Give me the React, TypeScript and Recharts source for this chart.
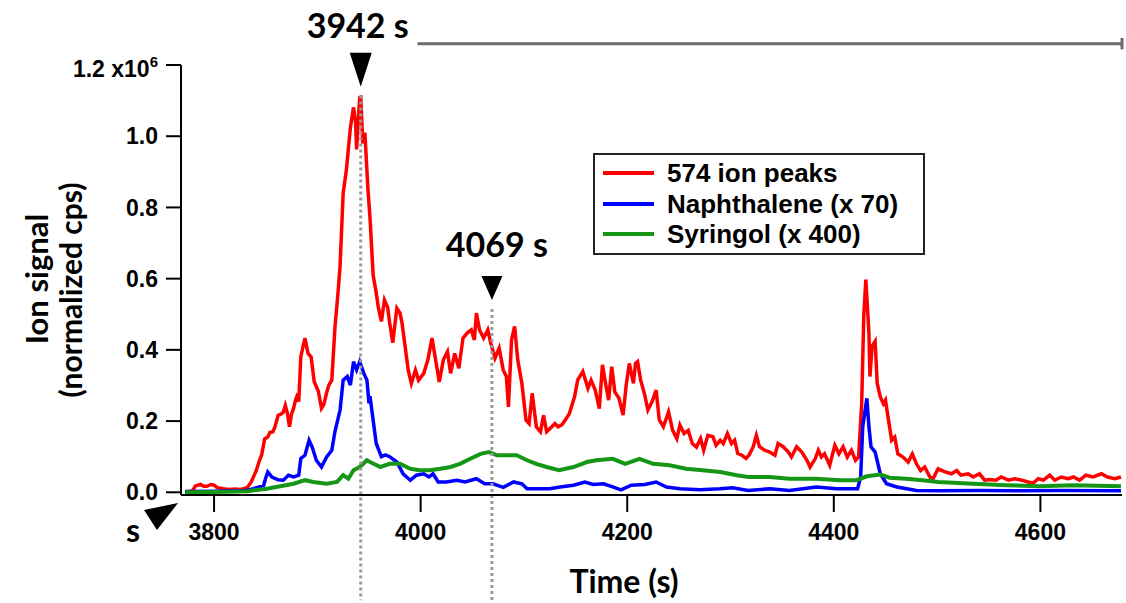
import {
  Customized,
  Legend,
  Line,
  LineChart,
  ReferenceDot,
  ReferenceLine,
  XAxis,
  YAxis,
} from 'recharts';

// Ion signal traces (normalized cps, x10^6) vs time.
// Each series is a list of [time (s), signal] pairs.

const ION_574: [number, number][] = [
  [3772, 0.0], [3779, 0.004], [3782, 0.018], [3787, 0.022], [3790, 0.017],
  [3793, 0.017], [3797, 0.022], [3800, 0.02], [3803, 0.013], [3809, 0.01],
  [3815, 0.008], [3820, 0.009], [3826, 0.008], [3832, 0.013], [3836, 0.029],
  [3841, 0.062], [3844, 0.09], [3846, 0.104], [3849, 0.15], [3852, 0.155],
  [3854, 0.168], [3857, 0.17], [3859, 0.184], [3862, 0.216], [3865, 0.22],
  [3867, 0.225], [3869, 0.244], [3871, 0.222], [3873, 0.184], [3875, 0.22],
  [3877, 0.236], [3879, 0.26], [3880, 0.268], [3882, 0.255], [3884, 0.381],
  [3888, 0.433], [3891, 0.39], [3894, 0.38], [3897, 0.31], [3899, 0.297],
  [3901, 0.283], [3904, 0.236], [3906, 0.245], [3907, 0.255], [3909, 0.28],
  [3911, 0.3], [3914, 0.315], [3917, 0.461], [3920, 0.56], [3922, 0.635],
  [3925, 0.841], [3928, 0.902], [3932, 1.024], [3935, 1.081], [3937, 1.04],
  [3938, 0.963], [3941, 1.109], [3942, 1.11], [3944, 0.98], [3946, 1.01],
  [3949, 0.85], [3951, 0.77], [3954, 0.61], [3957, 0.56], [3959, 0.52],
  [3962, 0.48], [3963, 0.5], [3965, 0.54], [3968, 0.52], [3970, 0.476],
  [3973, 0.42], [3977, 0.517], [3980, 0.504], [3982, 0.475], [3985, 0.409],
  [3988, 0.343], [3991, 0.306], [3995, 0.343], [3998, 0.315], [4003, 0.334],
  [4007, 0.372], [4011, 0.433], [4014, 0.381], [4018, 0.31], [4022, 0.372],
  [4026, 0.395], [4029, 0.334], [4033, 0.39], [4037, 0.348], [4041, 0.433],
  [4045, 0.447], [4049, 0.456], [4052, 0.428], [4054, 0.503], [4057, 0.456],
  [4061, 0.433], [4065, 0.456], [4068, 0.418], [4072, 0.377], [4076, 0.405],
  [4080, 0.343], [4083, 0.325], [4085, 0.24], [4088, 0.428], [4091, 0.466],
  [4094, 0.372], [4098, 0.306], [4102, 0.203], [4105, 0.193], [4108, 0.278],
  [4112, 0.184], [4116, 0.17], [4119, 0.216], [4122, 0.17], [4127, 0.184],
  [4130, 0.193], [4133, 0.184], [4137, 0.19], [4140, 0.203], [4144, 0.221],
  [4149, 0.268], [4152, 0.315], [4157, 0.339], [4162, 0.292], [4165, 0.315],
  [4169, 0.287], [4173, 0.235], [4176, 0.358], [4179, 0.306], [4182, 0.259],
  [4185, 0.353], [4188, 0.282], [4192, 0.264], [4196, 0.217], [4199, 0.301],
  [4202, 0.362], [4206, 0.306], [4208, 0.362], [4210, 0.367], [4213, 0.315],
  [4217, 0.273], [4220, 0.231], [4224, 0.254], [4228, 0.287], [4231, 0.203],
  [4235, 0.184], [4240, 0.226], [4244, 0.174], [4248, 0.151], [4251, 0.189],
  [4255, 0.165], [4259, 0.174], [4263, 0.137], [4267, 0.127], [4271, 0.151],
  [4274, 0.118], [4278, 0.16], [4283, 0.156], [4286, 0.132], [4290, 0.146],
  [4293, 0.137], [4297, 0.165], [4301, 0.137], [4304, 0.146], [4307, 0.109],
  [4311, 0.104], [4315, 0.095], [4318, 0.105], [4322, 0.128], [4325, 0.16],
  [4328, 0.128], [4333, 0.118], [4338, 0.113], [4343, 0.104], [4346, 0.137],
  [4351, 0.128], [4356, 0.113], [4359, 0.099], [4364, 0.128], [4369, 0.113],
  [4374, 0.09], [4377, 0.071], [4382, 0.094], [4385, 0.118], [4388, 0.099],
  [4391, 0.108], [4396, 0.076], [4401, 0.132], [4405, 0.108], [4409, 0.128],
  [4413, 0.099], [4417, 0.118], [4421, 0.09], [4424, 0.099], [4427, 0.25],
  [4429, 0.494], [4431, 0.597], [4434, 0.447], [4435, 0.325], [4437, 0.41],
  [4440, 0.424], [4442, 0.306], [4445, 0.268], [4448, 0.249], [4450, 0.259],
  [4453, 0.202], [4456, 0.146], [4459, 0.155], [4462, 0.108], [4467, 0.099],
  [4472, 0.085], [4476, 0.108], [4480, 0.08], [4484, 0.061], [4488, 0.071],
  [4493, 0.043], [4496, 0.038], [4501, 0.066], [4507, 0.058], [4514, 0.052],
  [4519, 0.061], [4523, 0.048], [4530, 0.052], [4535, 0.043], [4541, 0.052],
  [4546, 0.034], [4551, 0.036], [4557, 0.034], [4562, 0.043], [4569, 0.034],
  [4575, 0.038], [4582, 0.034], [4588, 0.029], [4593, 0.026], [4598, 0.038],
  [4603, 0.034], [4609, 0.048], [4614, 0.034], [4620, 0.043], [4627, 0.038],
  [4632, 0.043], [4638, 0.034], [4644, 0.048], [4651, 0.043], [4659, 0.052],
  [4665, 0.043], [4672, 0.038], [4678, 0.043],
];

const NAPHTHALENE_X70: [number, number][] = [
  [3772, 0.002], [3800, 0.003], [3830, 0.004], [3838, 0.01], [3848, 0.019],
  [3850, 0.04], [3852, 0.057], [3856, 0.043], [3862, 0.035], [3867, 0.034],
  [3872, 0.048], [3877, 0.043], [3882, 0.048], [3884, 0.095], [3888, 0.104],
  [3892, 0.146], [3895, 0.127], [3899, 0.09], [3904, 0.071], [3909, 0.099],
  [3914, 0.118], [3917, 0.17], [3922, 0.231], [3925, 0.315], [3929, 0.325],
  [3932, 0.301], [3935, 0.367], [3938, 0.344], [3941, 0.367], [3945, 0.334],
  [3948, 0.315], [3950, 0.25], [3951, 0.27], [3954, 0.203], [3957, 0.137],
  [3962, 0.1], [3966, 0.105], [3970, 0.1], [3977, 0.085], [3983, 0.052],
  [3990, 0.034], [3996, 0.048], [4003, 0.052], [4008, 0.043], [4012, 0.052],
  [4017, 0.029], [4025, 0.029], [4035, 0.034], [4043, 0.029], [4054, 0.038],
  [4062, 0.024], [4070, 0.024], [4080, 0.014], [4090, 0.029], [4098, 0.024],
  [4103, 0.01], [4115, 0.01], [4125, 0.01], [4135, 0.015], [4148, 0.02],
  [4159, 0.029], [4167, 0.022], [4177, 0.024], [4186, 0.015], [4194, 0.007],
  [4204, 0.02], [4217, 0.022], [4228, 0.029], [4238, 0.015], [4251, 0.01],
  [4270, 0.007], [4290, 0.01], [4302, 0.013], [4317, 0.005], [4338, 0.01],
  [4357, 0.005], [4383, 0.015], [4403, 0.01], [4423, 0.01], [4426, 0.043],
  [4428, 0.184], [4432, 0.264], [4434, 0.184], [4436, 0.128], [4440, 0.113],
  [4445, 0.052], [4451, 0.024], [4461, 0.015], [4480, 0.005], [4501, 0.004],
  [4540, 0.005], [4580, 0.004], [4620, 0.005], [4678, 0.004],
];

const SYRINGOL_X400: [number, number][] = [
  [3772, 0.0], [3800, 0.001], [3832, 0.003], [3851, 0.01], [3864, 0.017],
  [3877, 0.024], [3888, 0.034], [3896, 0.029], [3909, 0.024], [3919, 0.029],
  [3925, 0.048], [3930, 0.038], [3935, 0.062], [3941, 0.071], [3948, 0.09],
  [3951, 0.085], [3961, 0.071], [3970, 0.08], [3980, 0.08], [3990, 0.066],
  [3999, 0.062], [4009, 0.062], [4019, 0.066], [4029, 0.071], [4038, 0.08],
  [4048, 0.094], [4058, 0.108], [4066, 0.113], [4074, 0.104], [4083, 0.104],
  [4093, 0.104], [4103, 0.09], [4112, 0.08], [4122, 0.071], [4134, 0.062],
  [4148, 0.071], [4161, 0.085], [4170, 0.09], [4186, 0.094], [4198, 0.08],
  [4212, 0.094], [4225, 0.08], [4241, 0.076], [4257, 0.066], [4273, 0.062],
  [4290, 0.057], [4306, 0.048], [4317, 0.043], [4338, 0.043], [4357, 0.038],
  [4383, 0.038], [4406, 0.034], [4422, 0.034], [4432, 0.045], [4445, 0.05],
  [4454, 0.041], [4470, 0.038], [4486, 0.034], [4501, 0.029], [4535, 0.024],
  [4567, 0.02], [4599, 0.017], [4632, 0.02], [4678, 0.017],
];

const TIME_TICKS = [3800, 4000, 4200, 4400, 4600];
const SIGNAL_TICKS = [0, 0.2, 0.4, 0.6, 0.8, 1.0, 1.2];

// marked time points and the signal level where each triangle tip sits
const MARK_TIMES = [3942, 4069];
const MARK_LEVELS = [1.139, 0.54];
// top range bar (time span, level)
const RANGE_TIMES = [3997, 4679];
const RANGE_LEVEL = 1.26;

const ARIAL = '"Liberation Sans", Arial, sans-serif';
const TITLE_FONT = 'Lato, "Open Sans", sans-serif';

const toPoints = (s: [number, number][]) => s.map(([t, v]) => ({ t, v }));

function SignalTick(props: any) {
  const { x, y, payload } = props;
  const v = payload.value as number;
  if (v >= 1.2) {
    return (
      <text x={x} y={y + 4} dy='0.355em' textAnchor='end'
        fontFamily={ARIAL} fontWeight={700} fontSize={23} fill='#000'>
        1.2 x10
        <tspan dy={-10} fontSize={15}>6</tspan>
      </text>
    );
  }
  return (
    <text x={x} y={y} dy='0.355em' textAnchor='end'
      fontFamily={ARIAL} fontWeight={700} fontSize={23} fill='#000'>
      {v.toFixed(1)}
    </text>
  );
}

function Marker(props: any) {
  const { cx, cy, label, w, h, dx, gap } = props;
  return (
    <g>
      <polygon
        points={`${cx - w / 2},${cy - h} ${cx + w / 2},${cy - h} ${cx},${cy}`}
        fill='#000'
      />
      <text x={cx + dx} y={cy - h - gap} textAnchor='middle'
        fontFamily={TITLE_FONT} fontWeight={700} fontSize={34} fill='#000'>
        {label}
      </text>
    </g>
  );
}

function LegendBox({ payload }: any) {
  return (
    <div style={{
      boxSizing: 'border-box', width: 332, height: 102,
      border: '2px solid #222', background: '#fff',
      padding: '3px 8px', fontFamily: ARIAL, fontWeight: 700,
      fontSize: 26, lineHeight: '30.5px', color: '#000',
    }}>
      {(payload || []).map((item: any) => (
        <div key={item.value} style={{ display: 'flex', alignItems: 'center', whiteSpace: 'nowrap' }}>
          <span style={{ display: 'inline-block', width: 51, height: 4, background: item.color, marginRight: 13 }} />
          {item.value}
        </div>
      ))}
    </div>
  );
}

function Titles() {
  return (
    <g fontFamily={TITLE_FONT} fontWeight={700} fill='#000'>
      <text transform='translate(37,279) rotate(-90)' textAnchor='middle' dy='0.35em' fontSize={31}>
        Ion signal
      </text>
      <text transform='translate(71,290) rotate(-90)' textAnchor='middle' dy='0.35em' fontSize={30}>
        (normalized cps)
      </text>
      <text x={624} y={593} textAnchor='middle' fontSize={32}>Time (s)</text>
      <polygon points='144,510 178,503 157,530' fill='#000' />
      <text x={126} y={542} fontSize={32}>s</text>
    </g>
  );
}

export default function App() {
  const axisStroke = { stroke: '#000', strokeWidth: 2 };
  return (
    <div style={{ position: 'relative', width: 1126, height: 603, background: '#fff' }}>
      <style>{'body{margin:0}'}</style>
      <LineChart width={1126} height={603} margin={{ top: 65, right: 4, bottom: 68, left: 101 }}>
        <XAxis
          type='number' dataKey='t' domain={[3768, 4679]} ticks={TIME_TICKS}
          interval={0} allowDataOverflow height={40} tickSize={17} tickMargin={12}
          axisLine={axisStroke} tickLine={axisStroke}
          tick={{ fontFamily: ARIAL, fontWeight: 700, fontSize: 23, fill: '#000' }}
        />
        <YAxis
          type='number' domain={[-0.0076, 1.2]} ticks={SIGNAL_TICKS}
          interval={0} allowDataOverflow width={80} tickSize={15} tickMargin={8}
          axisLine={axisStroke} tickLine={axisStroke}
          tick={(p: any) => <SignalTick {...p} />}
        />
        <Line data={toPoints(ION_574)} dataKey='v' name='574 ion peaks' type='linear'
          stroke='#ff0000' strokeWidth={3.5} dot={false} activeDot={false} isAnimationActive={false} />
        <Line data={toPoints(NAPHTHALENE_X70)} dataKey='v' name='Naphthalene (x 70)' type='linear'
          stroke='#0000ff' strokeWidth={3.5} dot={false} activeDot={false} isAnimationActive={false} />
        <Line data={toPoints(SYRINGOL_X400)} dataKey='v' name='Syringol (x 400)' type='linear'
          stroke='#169616' strokeWidth={4} dot={false} activeDot={false} isAnimationActive={false} />
        {MARK_TIMES.map((t, i) => (
          <ReferenceLine key={`d${t}`} ifOverflow='visible'
            segment={[{ x: t, y: MARK_LEVELS[i] - 0.025 }, { x: t, y: -0.303 }]}
            stroke='#9a9a9a' strokeWidth={3} strokeDasharray='3 3' />
        ))}
        <ReferenceLine ifOverflow='visible'
          segment={[{ x: RANGE_TIMES[0], y: RANGE_LEVEL }, { x: RANGE_TIMES[1], y: RANGE_LEVEL }]}
          stroke='#6e6a6a' strokeWidth={3} />
        <ReferenceLine ifOverflow='visible'
          segment={[{ x: RANGE_TIMES[1], y: RANGE_LEVEL + 0.016 }, { x: RANGE_TIMES[1], y: RANGE_LEVEL - 0.016 }]}
          stroke='#6e6a6a' strokeWidth={3} />
        <ReferenceDot x={MARK_TIMES[0]} y={MARK_LEVELS[0]} ifOverflow='visible'
          shape={(p: any) => <Marker {...p} label='3942 s' w={22} h={34} dx={-3} gap={15} />} />
        <ReferenceDot x={MARK_TIMES[1]} y={MARK_LEVELS[1]} ifOverflow='visible'
          shape={(p: any) => <Marker {...p} label='4069 s' w={21} h={24} dx={5} gap={19} />} />
        <Customized component={Titles} />
        <Legend layout='vertical' align='center' verticalAlign='middle'
          wrapperStyle={{ left: 593, top: 153, width: 332, height: 102 }}
          content={(p: any) => <LegendBox {...p} />} />
      </LineChart>
    </div>
  );
}
